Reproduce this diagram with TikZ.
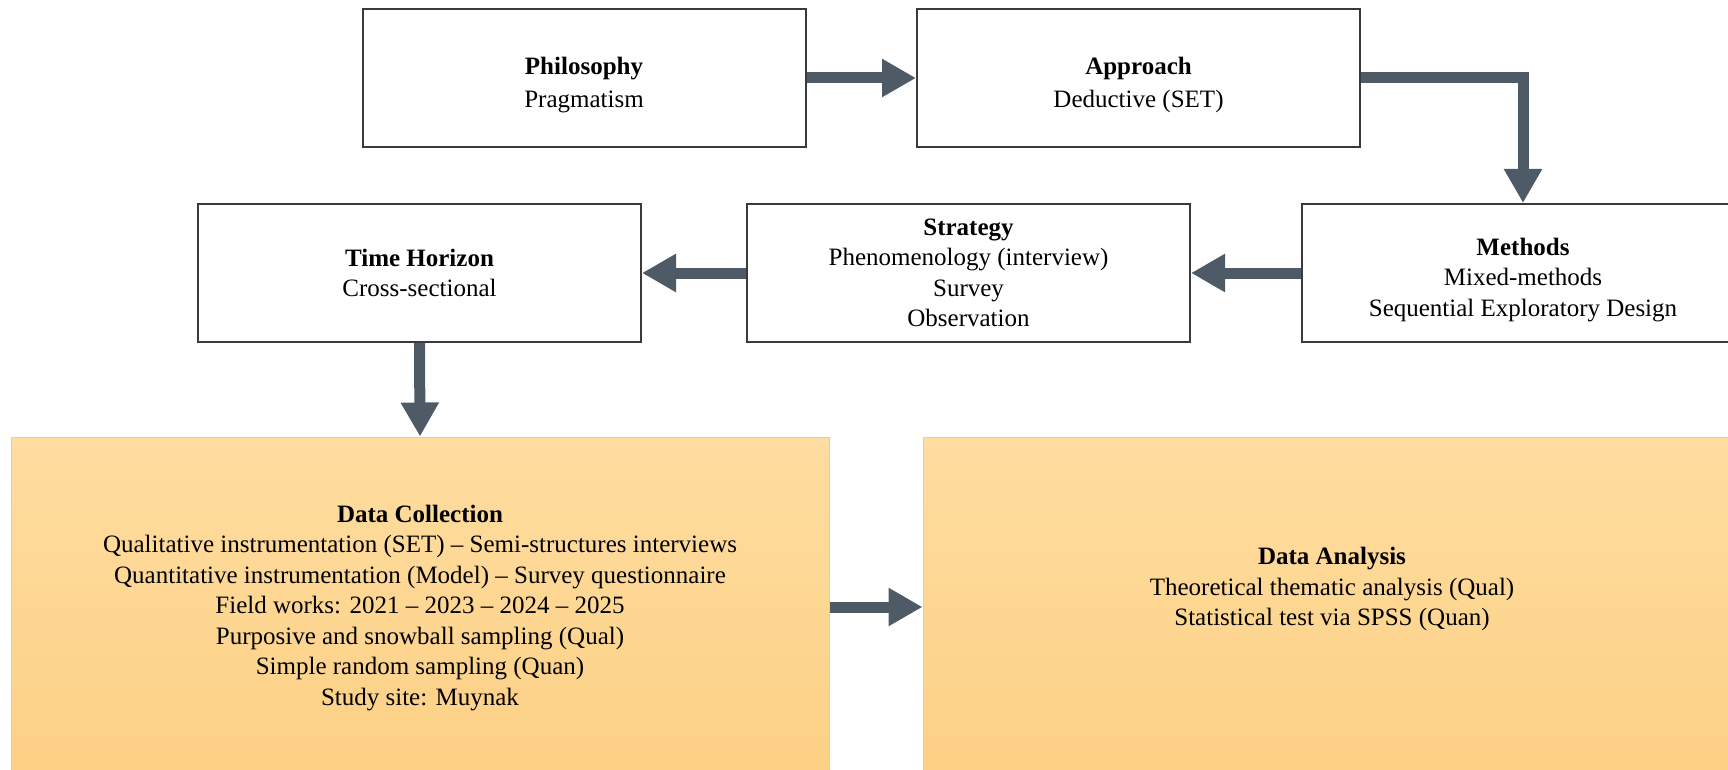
\documentclass[tikz,border=0pt]{standalone}
\usepackage{fontspec}
\setmainfont{Liberation Serif}
\usetikzlibrary{arrows.meta}
\definecolor{arrowc}{HTML}{4E5A66}
\definecolor{boxline}{HTML}{3A3A3A}
\definecolor{goldtop}{HTML}{FEDDA0}
\definecolor{goldbot}{HTML}{FDD085}
\definecolor{goldline}{HTML}{F6CB7E}
\newcommand{\lowerstrut}{\rule{0pt}{31pt}}
\begin{document}
\begin{tikzpicture}[x=1pt,y=-1pt,
  stagebox/.style={draw=boxline, line width=2pt, fill=white, minimum width=443pt, minimum height=138pt, align=center, inner sep=0pt, font=\fontsize{25}{30.5}\selectfont},
  bigbox/.style={draw=goldline, line width=1pt, top color=goldtop, bottom color=goldbot, minimum width=818pt, minimum height=340pt, inner sep=0pt},
  bodytext/.style={align=center, inner sep=0pt, font=\fontsize{25}{30.5}\selectfont},
  conn/.style={draw=arrowc, line width=11pt, line join=miter, -{Triangle[width=36pt,length=34pt]}}
]
\useasboundingbox (0,0) rectangle (1728,770);
\clip (0,0) rectangle (1728,770);

\node[stagebox] (phil) at (584,78) {\lowerstrut\textbf{Philosophy}\\[3pt]Pragmatism};
\node[stagebox] (appr) at (1138.5,78) {\lowerstrut\textbf{Approach}\\[3pt]Deductive (SET)};
\node[stagebox] (time) at (419.5,273) {\textbf{Time Horizon}\\Cross-sectional};
\node[stagebox] (strat) at (968.5,273) {\textbf{Strategy}\\Phenomenology (interview)\\Survey\\Observation};
\node[stagebox] (meth) at (1523,273) {\lowerstrut\textbf{Methods}\\Mixed-methods\\Sequential Exploratory Design};

\node[bigbox] (dc) at (420,607) {};
\node[bodytext] (dctext) at (420,608) {\textbf{Data Collection}\\
Qualitative instrumentation (SET) – Semi-structures interviews\\
Quantitative instrumentation (Model) – Survey questionnaire\\
Field works: 2021 – 2023 – 2024 – 2025\\
Purposive and snowball sampling (Qual)\\
Simple random sampling (Quan)\\
Study site: Muynak};

\node[bigbox] (da) at (1332,607) {};
\node[bodytext] (datext) at (1332,589) {\textbf{Data Analysis}\\
Theoretical thematic analysis (Qual)\\
Statistical test via SPSS (Quan)};

\draw[conn] (phil.east) -- (appr.west);
\draw[conn] (appr.east) -| (meth.north);
\draw[conn] (meth.west) -- (strat.east);
\draw[conn] (strat.west) -- (time.east);
\draw[conn] (time.south) -- (dc.north);
\draw[conn] (dc.east) -- (da.west);
\end{tikzpicture}
\end{document}
